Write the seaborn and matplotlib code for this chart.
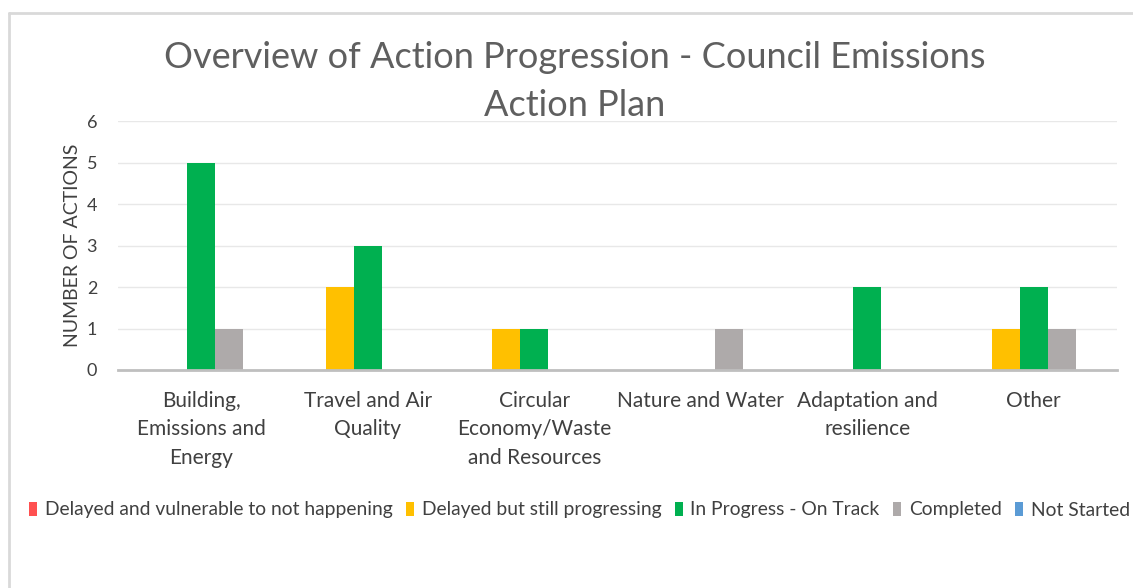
import matplotlib
matplotlib.use("Agg")
import matplotlib.pyplot as plt
import seaborn as sns
import pandas as pd
from matplotlib.lines import Line2D
from matplotlib.patches import Patch

categories = ["Building,\nEmissions and\nEnergy", "Travel and Air\nQuality",
              "Circular\nEconomy/Waste\nand Resources", "Nature and Water",
              "Adaptation and\nresilience", "Other"]
series = ["Delayed and vulnerable to not happening", "Delayed but still progressing",
          "In Progress - On Track", "Completed", "Not Started"]
delayed_vulnerable = [0, 0, 0, 0, 0, 0]
delayed_progressing = [0, 2, 1, 0, 0, 1]
in_progress = [5, 3, 1, 0, 2, 2]
completed = [1, 0, 0, 1, 0, 1]
not_started = [0, 0, 0, 0, 0, 0]
colors = ["#FF5050", "#FFC000", "#00B050", "#AEAAAA", "#5B9BD5"]

values = [delayed_vulnerable, delayed_progressing, in_progress, completed, not_started]
rows = []
for s, vals in zip(series, values):
    for c, v in zip(categories, vals):
        rows.append({"Category": c, "Status": s, "Count": v})
df = pd.DataFrame(rows)

sns.set_theme(style="white")
plt.rcParams['font.family'] = ['Lato', 'DejaVu Sans']

W, H = 1133, 588
fig = plt.figure(figsize=(W / 100, H / 100), dpi=100)
ax = fig.add_axes([118 / W, 1 - 370 / H, (1117 - 118) / W, (370 - 121) / H])

sns.barplot(data=df, x="Category", y="Count", hue="Status", hue_order=series,
            order=categories, palette=colors, width=0.84, gap=0, ax=ax,
            saturation=1, legend=False, errorbar=None, linewidth=0)

ax.set_ylim(0, 6)
ax.set_yticks(range(7))
ax.yaxis.grid(True, color="#E8E8E8", linewidth=1)
ax.set_axisbelow(True)
for side in ["top", "right", "left"]:
    ax.spines[side].set_visible(False)
ax.spines["bottom"].set_color("#BFBFBF")
ax.spines["bottom"].set_linewidth(2)
ax.tick_params(axis="y", length=0, labelsize=13, colors="#404040", pad=15)
ax.tick_params(axis="x", length=0, labelsize=15, colors="#404040", pad=15)
for lbl in ax.get_xticklabels():
    lbl.set_linespacing(1.53)
ax.set_xlabel("")
ax.set_ylabel("NUMBER OF ACTIONS", fontsize=14, color="#404040", labelpad=4)

fig.text(575 / W, 1 - 58 / H, "Overview of Action Progression - Council Emissions",
         ha="center", va="center", fontsize=26, color="#5F5F5F", fontweight="normal")
fig.text(575 / W, 1 - 106 / H, "Action Plan",
         ha="center", va="center", fontsize=26, color="#5F5F5F", fontweight="normal")

handles = [Patch(facecolor=c, edgecolor="none") for c in colors]
fig.legend(handles, series, loc="center left", bbox_to_anchor=(12 / W, 1 - 510 / H),
           ncol=5, frameon=False, fontsize=13.9, handlelength=0.42, handleheight=0.7,
           handletextpad=0.4, columnspacing=0.68, labelcolor="#404040")

fig.add_artist(Line2D([9 / W, 9 / W], [0, 1 - 13 / H], transform=fig.transFigure,
                      color="#D9D9D9", linewidth=2))
fig.add_artist(Line2D([9 / W, 1], [1 - 13 / H, 1 - 13 / H], transform=fig.transFigure,
                      color="#D9D9D9", linewidth=2))

fig.savefig("out.png", dpi=100)
